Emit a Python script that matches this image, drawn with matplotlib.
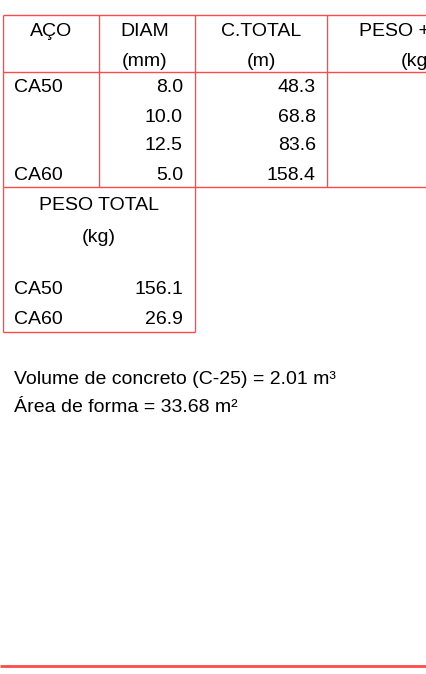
import matplotlib
matplotlib.use("Agg")
import matplotlib.pyplot as plt

# Data
header_top = ["AÇO", "DIAM", "C.TOTAL", "PESO + 10%"]
header_units = ["", "(mm)", "(m)", "(kg)"]
steel = ["CA50", "", "", "CA60"]
diam = ["8.0", "10.0", "12.5", "5.0"]
c_total = ["48.3", "68.8", "83.6", "158.4"]
total_labels = ["CA50", "CA60"]
total_values = ["156.1", "26.9"]
notes = ["Volume de concreto (C-25) = 2.01 m³", "Área de forma = 33.68 m²"]

FONT = ["Liberation Sans Narrow", "Liberation Sans", "DejaVu Sans"]
RED = "#ff4a4a"
FS = 14

fig = plt.figure(figsize=(4.26, 6.74), dpi=100)
ax = fig.add_axes([0, 0, 1, 1])
ax.set_xlim(0, 426)
ax.set_ylim(674, 0)
ax.axis("off")

def hl(y, x0, x1, lw=1.0):
    ax.plot([x0, x1], [y, y], color=RED, lw=lw, solid_capstyle="butt")

def vl(x, y0, y1, lw=1.0):
    ax.plot([x, x], [y0, y1], color=RED, lw=lw, solid_capstyle="butt")

# top table grid
hl(15, 3, 426)
hl(72, 3, 426)
hl(187, 3, 426)
for x in [3, 99, 195, 327]:
    vl(x, 15, 187)

# second table
hl(332, 3, 195)
vl(3, 187, 332)
vl(195, 187, 332)

def t(x, y, s, ha="left"):
    ax.text(x, y, s, ha=ha, va="center", fontsize=FS, family=FONT, color="#000000")

# headers
centers = [51, 145, 261]
for c, top, unit in zip(centers, header_top[:3], header_units[:3]):
    t(c, 32, top, "center")
    if unit:
        t(c, 62, unit, "center")
t(359, 32, header_top[3])
t(401, 62, header_units[3])

rows_y = [88, 117, 146, 175]
for y, s, d, c in zip(rows_y, steel, diam, c_total):
    if s:
        t(14, y, s)
    t(183, y, d, "right")
    t(316, y, c, "right")

t(99, 205, "PESO TOTAL", "center")
t(99, 237, "(kg)", "center")
for y, lab, val in zip([290, 320], total_labels, total_values):
    t(14, y, lab)
    t(183, y, val, "right")

t(14, 380, notes[0])
t(14, 407, notes[1])

hl(666, 0, 426, lw=2.0)

fig.savefig("out.png", dpi=100)
